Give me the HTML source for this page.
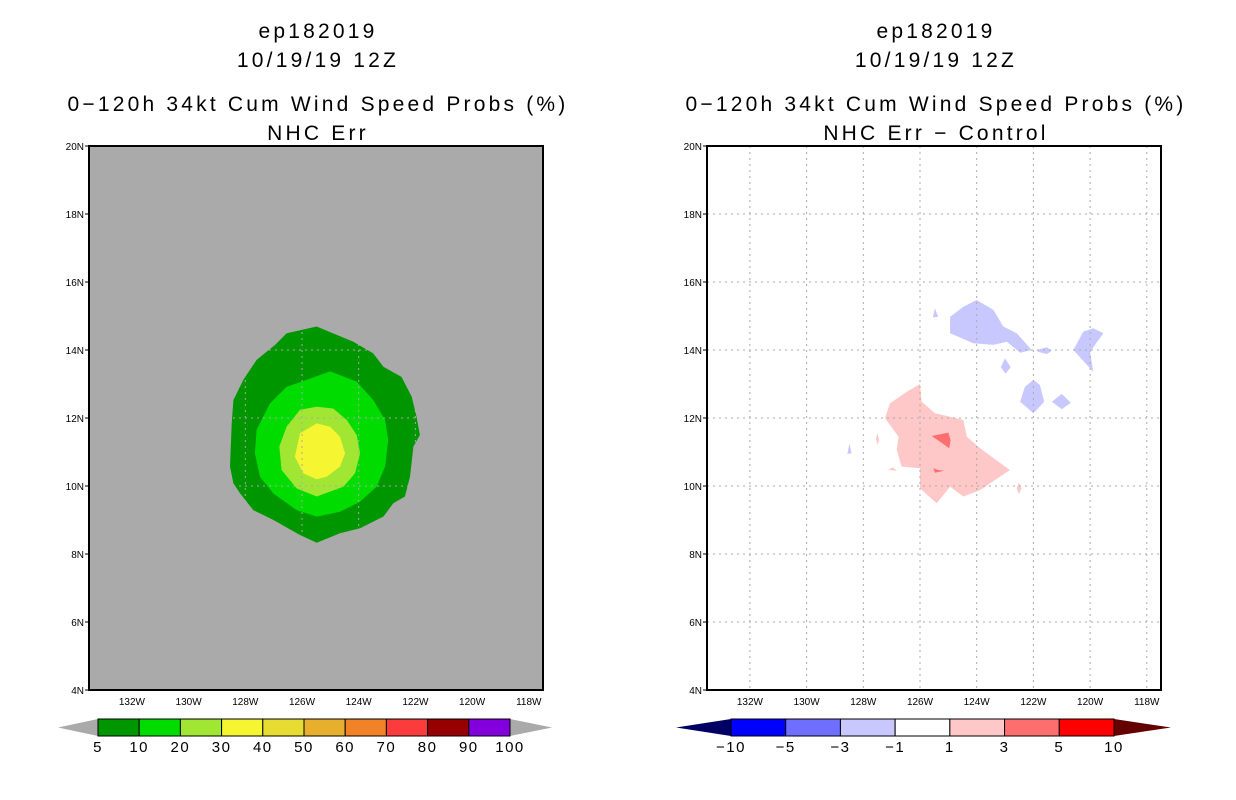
<!DOCTYPE html>
<html><head><meta charset="utf-8"><style>
body{margin:0;background:#fff;}
svg{display:block;font-family:"Liberation Sans","DejaVu Sans",sans-serif;}
</style></head><body>
<svg id="s" width="1236" height="800" xmlns="http://www.w3.org/2000/svg"></svg>
<script>
// ---- data ----
const lonTicks=[132,130,128,126,124,122,120,118];
const latTicks=[4,6,8,10,12,14,16,18,20];
const leftLevels=[5,10,20,30,40,50,60,70,80,90,100];
const leftColors=["#009600","#00dc00","#a0e632","#f5f532","#e6dc32","#e6af2d","#f08228","#fa3c3c","#960000","#8200dc"];
const rightLevels=[-10,-5,-3,-1,1,3,5,10];
const rightColors=["#0000ff","#6e6eff","#c8c8ff","#ffffff","#ffc8c8","#ff6e6e","#ff0000"];
const prob5=[[126.54,14.49],[125.48,14.69],[124.19,14.24],[123.49,13.90],[123.13,13.51],[122.49,13.21],[122.13,12.63],[121.96,12.04],[121.84,11.50],[122.07,11.16],[122.19,10.27],[122.37,9.69],[122.78,9.49],[123.13,9.10],[123.95,8.76],[124.66,8.61],[125.48,8.33],[126.07,8.56],[127.01,9.00],[127.72,9.29],[128.19,9.79],[128.42,10.08],[128.54,10.57],[128.48,11.84],[128.42,12.53],[128.07,13.12],[127.60,13.71],[126.95,14.15]];
const prob10=[[126.01,13.07],[125.01,13.37],[124.07,13.07],[123.49,12.53],[123.07,11.94],[122.96,11.35],[123.07,10.57],[123.37,9.98],[123.95,9.54],[124.66,9.24],[125.48,9.10],[126.19,9.29],[127.01,9.78],[127.48,10.27],[127.66,10.96],[127.60,11.65],[127.13,12.43],[126.54,12.92]];
const prob20=[[126.07,12.24],[125.48,12.33],[124.90,12.28],[124.42,11.94],[124.07,11.50],[123.95,10.96],[124.13,10.37],[124.54,9.98],[125.48,9.69],[126.19,9.93],[126.72,10.47],[126.80,11.16],[126.54,11.75]];
const prob30=[[125.48,11.84],[125.01,11.74],[124.66,11.45],[124.48,10.96],[124.66,10.57],[125.13,10.27],[125.48,10.20],[125.95,10.37],[126.25,10.86],[126.07,11.55]];
const diffNeg=[
 [[124.94,14.98],[124.47,15.27],[124.00,15.47],[123.41,15.18],[123.06,14.69],[122.59,14.49],[122.06,14.00],[122.47,13.92],[122.94,14.24],[123.41,14.15],[124.12,14.20],[124.94,14.49]],
 [[121.88,14.00],[121.53,14.08],[121.35,13.98],[121.53,13.88],[121.83,13.95]],
 [[120.59,14.00],[120.24,14.54],[119.89,14.64],[119.53,14.49],[120.00,13.95],[119.89,13.36],[120.00,13.46]],
 [[125.47,15.23],[125.36,14.98],[125.55,14.96]],
 [[123.00,13.76],[122.80,13.49],[122.98,13.31],[123.15,13.49]],
 [[122.00,13.12],[121.77,12.97],[121.62,12.48],[122.00,12.14],[122.47,12.48],[122.30,12.92]],
 [[121.00,12.71],[120.68,12.45],[121.00,12.26],[121.35,12.48]],
 [[128.49,11.24],[128.41,10.96],[128.56,10.94]]];
const diffPos=[
 [[126.00,13.00],[125.94,12.48],[125.47,12.14],[124.71,11.99],[124.47,11.94],[124.35,11.45],[123.88,11.11],[123.30,10.76],[122.83,10.47],[123.88,9.88],[124.47,9.69],[124.94,9.98],[125.41,9.49],[126.00,9.93],[126.00,10.52],[126.65,10.57],[126.82,11.06],[126.76,11.45],[127.23,11.99],[127.06,12.43],[126.47,12.77]],
 [[127.51,11.55],[127.44,11.35],[127.51,11.21],[127.55,11.40]],
 [[127.12,10.47],[126.96,10.55],[126.82,10.45]],
 [[122.51,10.10],[122.42,9.93],[122.51,9.76],[122.59,9.93]]];
const diffPos3=[
 [[125.59,11.47],[125.00,11.57],[124.92,11.35],[124.97,11.11],[125.29,11.30]],
 [[125.53,10.52],[125.35,10.47],[125.15,10.45],[125.47,10.39]]];

const NS="http://www.w3.org/2000/svg";
const svg=document.getElementById('s');
function mk(t,a,p){const e=document.createElementNS(NS,t);for(const k in a)e.setAttribute(k,a[k]);(p||svg).appendChild(e);return e;}
function txt(x,y,s,size,anchor,p){const e=mk('text',{x:x,y:y,'font-size':size,'text-anchor':anchor||'middle',fill:'#000'},p);e.textContent=s;return e;}
function title(x,y,s,p){const e=mk('text',{x:x,y:y,'font-size':21,'text-anchor':'middle',fill:'#000','letter-spacing':3.2},p);e.textContent=s;return e;}

function panel(ox,name,sub,fill){
  const g=mk('g',{});
  
  
  const x0=ox, x1=ox+454, y0=146, y1=690;
  const xs=lon=>ox+213+(126-lon)*28.35;
  const ys=lat=>y0+(20-lat)*34;
  const cx=ox+229;
  let t;
  t=title(cx,38,'ep182019',g);
  t=title(cx,67,'10/19/19 12Z',g);
  t=title(cx,111,'0\u2212120h 34kt Cum Wind Speed Probs (%)',g);
  t=title(cx,140,sub,g);
  const bg=mk('rect',{x:x0,y:y0,width:454,height:544,fill:fill},g);
  
  return {g,xs,ys,x0,x1,y0,y1};
}
function poly(P,pts,col,name){
  const e=mk('polygon',{points:pts.map(p=>P.xs(p[0]).toFixed(1)+','+P.ys(p[1]).toFixed(1)).join(' '),fill:col},P.g);
  
  
}
function axes(P){
  lonTicks.forEach(l=>{const x=P.xs(l);
    const ln=mk('line',{x1:x,x2:x,y1:P.y0,y2:P.y1,stroke:'#aaa','stroke-dasharray':'2,4'},P.g);
    
    const t=txt(x,705,l+'W',10,'middle',P.g);});
  latTicks.forEach(l=>{const y=P.ys(l);
    if(l>4&&l<20){const ln=mk('line',{x1:P.x0,x2:P.x1,y1:y,y2:y,stroke:'#aaa','stroke-dasharray':'2,4'},P.g);
    }
    mk('line',{x1:P.x0-4,x2:P.x0,y1:y,y2:y,stroke:'#000'},P.g);
    const t=txt(P.x0-5,y+4,l+'N',10,'end',P.g);});
  const f=mk('rect',{x:P.x0,y:P.y0,width:454,height:544,fill:'none',stroke:'#000','stroke-width':2},P.g);
  
}
const L=panel(89,'left-panel','NHC Err','#aaaaaa');
poly(L,prob5,leftColors[0],'contour-5');
poly(L,prob10,leftColors[1],'contour-10');
poly(L,prob20,leftColors[2],'contour-20');
poly(L,prob30,leftColors[3],'contour-30');
axes(L);
const R=panel(707,'right-panel','NHC Err \u2212 Control','#ffffff');
diffNeg.forEach(p=>poly(R,p,rightColors[2],'diff-neg-1to3'));
diffPos.forEach(p=>poly(R,p,rightColors[4],'diff-pos-1to3'));
diffPos3.forEach(p=>poly(R,p,rightColors[5],'diff-pos-3to5'));
axes(R);

function colorbar(xl,xr,tipL,tipR,colors,labels,cL,cR,name){
  const g=mk('g',{});
  
  
  const y0=719,y1=736,w=(xr-xl)/colors.length;
  mk('polygon',{points:`${tipL},${(y0+y1)/2} ${xl},${y0} ${xl},${y1}`,fill:cL},g);
  mk('polygon',{points:`${tipR},${(y0+y1)/2} ${xr},${y0} ${xr},${y1}`,fill:cR},g);
  colors.forEach((c,i)=>{const r=mk('rect',{x:xl+i*w,y:y0,width:w,height:y1-y0,fill:c,stroke:'#000','stroke-width':1},g);
    });
  labels.forEach((v,i)=>{const t=mk('text',{x:xl+i*w,y:752,'font-size':15,'text-anchor':'middle','letter-spacing':1.5},g);
    t.textContent=String(v).replace('-','\u2212');
    });
}
colorbar(98,510,58,552,leftColors,leftLevels,'#aaaaaa','#aaaaaa','colorbar-left');
colorbar(731,1114,676,1171,rightColors,rightLevels,'#000064','#640000','colorbar-right');
</script>
</body></html>
